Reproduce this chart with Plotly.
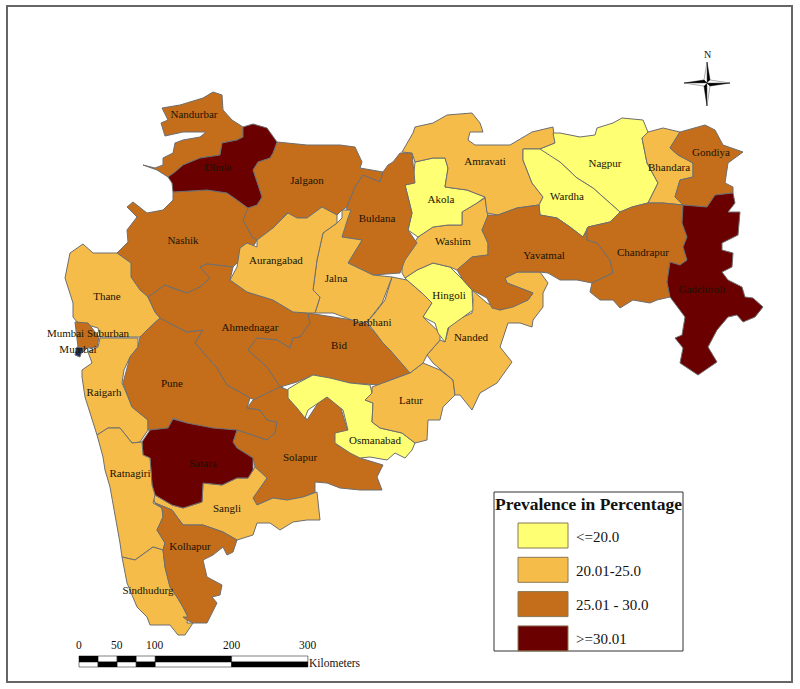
import plotly.graph_objects as go

NANDURBAR = [(213,92),(222,95),(223,110),(232,120),(243,127),(243,137),(237,140),(222,143),(220,155),(200,158),(183,165),(175,172),(168,177),(157,170),(143,165),(155,168),(163,165),(163,158),(173,153),(175,143),(183,140),(200,137),(206,132),(183,132),(165,136),(161,123),(168,120),(162,108),(180,105),(203,98)]
DHULE = [(243,127),(253,124),(267,128),(272,135),(277,142),(273,153),(270,158),(258,162),(253,170),(257,182),(262,197),(257,205),(248,208),(237,200),(227,193),(207,190),(173,192),(172,183),(168,177),(175,172),(183,165),(200,158),(220,155),(222,143),(237,140),(243,137)]
JALGAON = [(277,142),(307,145),(340,145),(355,147),(362,162),(360,168),(383,172),(380,182),(363,175),(355,187),(347,207),(342,210),(337,215),(322,207),(307,218),(297,218),(287,213),(273,228),(257,240),(252,237),(243,220),(247,208),(257,205),(262,197),(257,182),(253,170),(258,162),(270,158),(273,153)]
NASHIK = [(173,192),(207,190),(227,193),(237,200),(248,208),(243,220),(252,237),(257,240),(253,247),(247,243),(240,248),(240,260),(233,267),(207,264),(200,267),(210,278),(200,287),(187,293),(172,288),(165,285),(148,297),(140,290),(131,277),(131,263),(117,253),(128,242),(127,230),(137,217),(127,207),(133,202),(147,213),(163,210),(173,200)]
THANE = [(83,244),(93,253),(112,253),(117,253),(131,263),(131,277),(140,290),(148,297),(155,312),(160,318),(147,330),(140,337),(100,337),(98,328),(77,322),(73,317),(73,303),(65,278),(70,253)]
MUMBAI_SUB = [(75,322),(88,323),(99,337),(97,347),(87,348),(82,353),(78,347)]
MUMBAI = [(77,347),(83,348),(80,357),(75,355)]
RAIGARH = [(100,338),(138,338),(138,347),(130,357),(124,370),(122,383),(128,397),(132,407),(148,420),(148,430),(140,442),(132,443),(120,428),(108,428),(97,435),(90,412),(85,397),(82,377),(82,370),(92,363),(88,352),(98,347)]
PUNE = [(123,383),(128,397),(132,407),(148,420),(148,430),(168,428),(173,418),(197,427),(213,430),(237,430),(267,440),(275,433),(277,422),(267,420),(260,410),(247,408),(250,398),(240,392),(227,385),(217,368),(195,343),(203,330),(187,332),(173,325),(160,318),(147,330),(140,337),(138,347),(130,357)]
AHMEDNAGAR = [(148,297),(165,285),(172,288),(187,293),(200,287),(210,278),(200,267),(207,264),(233,267),(230,280),(247,292),(273,300),(293,312),(308,313),(310,323),(300,337),(293,338),(290,348),(277,340),(257,338),(248,350),(267,367),(280,383),(283,388),(255,400),(250,398),(240,392),(227,385),(217,368),(195,343),(203,330),(187,332),(173,325),(160,318),(155,312)]
BID = [(308,313),(340,318),(365,322),(377,335),(383,343),(390,350),(400,362),(410,373),(390,380),(380,385),(350,383),(313,375),(297,382),(280,387),(267,367),(248,350),(257,338),(277,340),(290,348),(293,338),(300,337),(310,323)]
SOLAPUR = [(280,387),(288,390),(297,403),(307,420),(320,400),(327,397),(340,405),(345,423),(348,432),(335,437),(337,445),(360,458),(383,465),(377,477),(382,490),(360,490),(340,488),(327,483),(315,482),(315,492),(303,497),(287,500),(273,498),(257,505),(253,498),(267,478),(255,467),(253,458),(237,448),(233,442),(237,430),(267,440),(275,433),(277,422),(267,420),(260,410),(247,408),(253,400)]
OSMANABAD = [(288,389),(298,383),(313,375),(330,378),(350,383),(370,385),(372,393),(365,400),(373,403),(372,422),(380,428),(402,433),(415,443),(412,450),(405,458),(395,453),(387,460),(370,457),(360,458),(350,453),(335,443),(335,433),(348,430),(343,410),(327,397),(318,403),(308,410),(305,418),(297,408),(288,398)]
LATUR = [(372,387),(390,380),(410,373),(423,363),(440,370),(453,380),(455,395),(443,407),(440,420),(428,420),(427,440),(415,443),(402,433),(380,428),(372,422),(373,403),(365,400),(372,393)]
NANDED = [(472,290),(487,303),(500,310),(528,300),(533,293),(517,287),(507,283),(505,278),(517,272),(540,272),(548,283),(543,293),(543,307),(533,320),(532,327),(520,323),(508,323),(500,347),(512,362),(497,383),(480,393),(472,410),(460,395),(455,395),(453,380),(433,363),(427,355),(440,340),(445,342),(450,323),(472,313),(473,300)]
PARBHANI = [(392,277),(407,280),(422,293),(432,303),(423,317),(440,333),(440,340),(427,355),(423,363),(410,373),(390,350),(383,343),(377,335),(367,322),(375,313),(385,300)]
HINGOLI = [(405,278),(417,270),(433,263),(450,267),(463,280),(472,290),(473,310),(463,317),(448,328),(445,342),(438,333),(435,323),(423,317),(432,303),(422,293),(407,280)]
WASHIM = [(402,262),(410,250),(418,237),(433,227),(448,225),(462,225),(462,212),(477,203),(485,198),(488,217),(482,230),(488,243),(488,255),(472,257),(457,270),(450,267),(433,263),(417,270),(405,278),(402,273)]
AKOLA = [(415,162),(433,158),(445,158),(448,168),(445,187),(467,190),(485,197),(477,203),(462,212),(462,225),(448,225),(433,227),(418,237),(408,230),(412,213),(405,185),(413,183)]
BULDANA = [(363,175),(380,182),(383,172),(388,165),(393,162),(400,153),(412,153),(415,183),(405,185),(412,213),(408,230),(417,243),(405,260),(400,273),(373,275),(348,263),(362,240),(342,237),(347,207),(355,187)]
JALNA = [(342,210),(351,210),(348,218),(342,237),(362,240),(348,263),(373,275),(392,277),(387,290),(382,303),(367,322),(360,323),(333,313),(315,313),(320,297),(313,290),(317,260),(323,233),(337,223),(342,218)]
AURANGABAD = [(288,213),(297,218),(307,218),(322,207),(337,215),(337,223),(323,233),(317,260),(313,290),(320,297),(315,313),(308,313),(293,312),(273,300),(247,292),(230,280),(237,267),(240,248),(247,243),(257,247),(257,240),(273,228)]
AMRAVATI = [(402,152),(413,133),(415,127),(433,123),(447,115),(472,113),(480,123),(483,132),(470,132),(468,140),(475,145),(497,145),(510,145),(532,132),(553,127),(555,143),(540,149),(523,149),(523,160),(532,183),(543,197),(539,205),(517,208),(498,215),(487,213),(485,197),(467,190),(445,187),(448,168),(445,158),(433,158),(415,162),(412,153)]
NAGPUR = [(540,149),(555,143),(553,133),(560,133),(580,137),(595,135),(597,128),(613,123),(622,118),(643,120),(648,132),(642,138),(647,163),(658,183),(648,203),(632,207),(620,212),(607,200),(593,188),(577,178),(560,162),(543,153)]
WARDHA = [(523,149),(540,149),(560,162),(577,178),(593,188),(607,200),(620,212),(610,222),(588,227),(583,237),(570,227),(557,218),(540,215),(539,205),(543,197),(532,183),(523,160)]
BHANDARA = [(648,132),(663,128),(680,132),(670,148),(678,155),(693,163),(693,177),(680,180),(675,197),(683,205),(663,203),(648,203),(658,183),(647,163),(642,138)]
GONDIYA = [(680,132),(705,125),(715,130),(723,145),(743,152),(728,163),(725,183),(733,187),(733,193),(715,195),(707,207),(683,205),(675,197),(680,180),(693,177),(693,163),(678,155),(670,148)]
GADCHIROLI = [(715,195),(733,193),(735,203),(728,212),(740,212),(738,235),(722,243),(722,250),(733,253),(732,267),(722,272),(728,280),(742,287),(745,297),(753,298),(763,307),(755,317),(743,322),(737,315),(728,317),(717,330),(708,347),(717,362),(698,375),(680,363),(683,348),(675,338),(682,335),(685,317),(670,297),(667,282),(670,262),(680,265),(687,260),(683,247),(687,237),(682,223),(683,205),(707,207)]
CHANDRAPUR = [(587,228),(588,227),(610,222),(620,212),(632,207),(648,203),(663,203),(683,205),(682,223),(687,237),(683,247),(687,260),(680,265),(670,262),(667,282),(670,297),(657,300),(650,303),(633,300),(620,308),(613,300),(600,300),(590,292),(592,283),(613,273),(610,260),(597,243),(587,240)]
YAVATMAL = [(488,215),(498,215),(517,208),(539,205),(540,215),(557,218),(570,227),(583,237),(588,228),(587,240),(597,243),(610,260),(613,273),(592,283),(577,280),(560,280),(548,273),(540,272),(517,272),(505,278),(507,283),(517,287),(533,293),(528,300),(513,307),(500,310),(492,308),(487,298),(472,290),(463,280),(457,270),(472,257),(488,255),(488,243),(482,230)]
SATARA = [(173,419),(187,423),(213,428),(237,430),(233,442),(237,448),(253,458),(253,470),(248,478),(237,478),(222,485),(203,483),(202,502),(183,508),(172,505),(155,495),(152,485),(150,458),(143,455),(142,442),(150,430),(168,428)]
SANGLI = [(155,495),(172,505),(183,508),(202,502),(203,483),(222,485),(237,478),(248,478),(255,467),(267,478),(253,498),(257,505),(273,498),(287,500),(303,497),(317,492),(320,520),(307,520),(293,522),(280,530),(270,523),(257,523),(253,535),(237,540),(223,532),(203,525),(183,525),(172,510),(155,503),(153,497)]
RATNAGIRI = [(97,435),(108,428),(120,428),(132,443),(142,442),(143,455),(150,458),(152,485),(155,495),(153,503),(162,508),(163,517),(157,530),(165,543),(163,550),(153,547),(135,560),(122,557),(120,543),(115,513),(110,487),(105,470),(103,457)]
SINDHUDURG = [(122,557),(135,560),(153,547),(163,550),(165,567),(170,587),(177,597),(183,607),(188,617),(187,623),(193,623),(185,635),(178,635),(170,625),(150,625),(147,617),(137,607),(127,583)]
KOLHAPUR = [(155,503),(172,510),(183,525),(203,525),(223,532),(237,540),(233,552),(227,555),(223,547),(213,555),(203,560),(207,577),(222,585),(220,595),(212,597),(217,603),(207,623),(193,623),(187,620),(183,617),(188,617),(183,607),(177,597),(170,587),(165,567),(163,550),(165,543),(157,530),(163,517),(162,508)]

# name, outline, prevalence class, label position
DISTRICTS = [
    ("Nandurbar", NANDURBAR, 2, (194,115)), ("Jalgaon", JALGAON, 2, (307,181)), ("Nashik", NASHIK, 2, (183,241)),
    ("Dhule", DHULE, 3, (218,168)), ("Thane", THANE, 1, (107,297)), ("Raigarh", RAIGARH, 1, (104,393)),
    ("Mumbai Suburban", MUMBAI_SUB, 2, (88,334)), ("Mumbai", MUMBAI, 1, (78,350)),
    ("Pune", PUNE, 2, (172,384)), ("Ahmednagar", AHMEDNAGAR, 2, (250,328)), ("Bid", BID, 2, (339,346)),
    ("Solapur", SOLAPUR, 2, (300,458)), ("Osmanabad", OSMANABAD, 0, (375,441)), ("Latur", LATUR, 1, (411,401)),
    ("Nanded", NANDED, 1, (471,338)), ("Parbhani", PARBHANI, 1, (372,323)), ("Hingoli", HINGOLI, 0, (449,296)),
    ("Washim", WASHIM, 1, (453,242)), ("Akola", AKOLA, 0, (441,200)), ("Buldana", BULDANA, 2, (377,219)),
    ("Jalna", JALNA, 1, (336,279)), ("Aurangabad", AURANGABAD, 1, (276,261)), ("Amravati", AMRAVATI, 1, (485,162)),
    ("Nagpur", NAGPUR, 0, (605,164)), ("Wardha", WARDHA, 0, (567,197)), ("Bhandara", BHANDARA, 1, (669,168)),
    ("Gondiya", GONDIYA, 2, (711,153)), ("Yavatmal", YAVATMAL, 2, (544,256)), ("Chandrapur", CHANDRAPUR, 2, (643,253)),
    ("Gadchiroli", GADCHIROLI, 3, (702,290)), ("Sangli", SANGLI, 1, (227,509)), ("Satara", SATARA, 3, (203,464)),
    ("Ratnagiri", RATNAGIRI, 1, (130,474)), ("Sindhudurg", SINDHUDURG, 1, (148,591)), ("Kolhapur", KOLHAPUR, 2, (190,547)),
]

CLASS_LABELS = ["<=20.0", "20.01-25.0", "25.01 - 30.0", ">=30.01"]
CLASS_COLORS = ["#FFFF73", "#F5BC4A", "#C46E1C", "#6B0000"]
LEGEND_TITLE = "Prevalence in Percentage"
SCALE_TICKS = [0, 50, 100, 200, 300]
SCALE_STOPS = [0, 25, 50, 75, 100, 200, 300]
SCALE_UNIT = "Kilometers"
PX_PER_KM = 0.763
SERIF = "Liberation Serif"
LINE = "#6E6E6E"

fig = go.Figure()

def poly(pts, fill, line=LINE, width=1, name=None):
    xs = [p[0] for p in pts] + [pts[0][0]]
    ys = [p[1] for p in pts] + [pts[0][1]]
    fig.add_trace(go.Scatter(x=xs, y=ys, mode="lines", fill="toself", fillcolor=fill,
                             line=dict(color=line, width=width), name=name or "", showlegend=False,
                             hoverinfo="name" if name else "skip"))

for name, pts, cls, _ in DISTRICTS:
    poly(pts, "#1F2A55" if name == "Mumbai" else CLASS_COLORS[cls], name=name)

fig.add_trace(go.Scatter(x=[d[3][0] for d in DISTRICTS], y=[d[3][1] for d in DISTRICTS],
                         text=[d[0] for d in DISTRICTS], mode="text", showlegend=False, hoverinfo="skip",
                         textfont=dict(family=SERIF, size=11, color="#1a1200")))

shapes, annos = [], []
def rect(x0, y0, x1, y1, fill="rgba(0,0,0,0)", line="#000000", w=1):
    shapes.append(dict(type="rect", x0=x0, y0=y0, x1=x1, y1=y1, fillcolor=fill,
                       line=dict(color=line, width=w)))
def text(x, y, s, size, anchor="center", bold=False, color="#111111"):
    annos.append(dict(x=x, y=y, text=f"<b>{s}</b>" if bold else s, showarrow=False, xanchor=anchor, yanchor="middle",
                      font=dict(family=SERIF, size=size, color=color)))

# Page frame
rect(7, 6, 792, 682, line="#666666", w=2)

# Legend box
rect(494, 492, 683, 651, fill="#FFFFFF", line="#333333", w=1)
text(588.5, 504, LEGEND_TITLE, 17.5, bold=True)
for i, (lab, col) in enumerate(zip(CLASS_LABELS, CLASS_COLORS)):
    y0 = 523 + i * 34.3
    rect(518, y0, 568, min(y0 + 25, 651), fill=col, line="#8a7a55", w=1)
    text(574, y0 + 13.5, lab, 15, anchor="left")

# Scale bar
SX, TOP, MID, BOT = 79, 656, 662, 667
for i in range(len(SCALE_STOPS) - 1):
    a = SX + SCALE_STOPS[i] * PX_PER_KM
    b = SX + SCALE_STOPS[i + 1] * PX_PER_KM
    up, lo = ("#000000", "#FFFFFF") if i % 2 == 0 else ("#FFFFFF", "#000000")
    rect(a, TOP, b, MID, fill=up, line="#000000", w=0.5)
    rect(a, MID, b, BOT, fill=lo, line="#000000", w=0.5)
for km in SCALE_TICKS:
    text(SX + km * PX_PER_KM, 645, str(km), 11.5)
text(307, 663, SCALE_UNIT, 11.5, anchor="left")

# North arrow
CX, CY = 707, 83
poly([(CX, 62), (CX + 3, CY - 3), (CX, CY)], "#000000", line="#000000", width=0.5)
poly([(CX, 62), (CX - 3, CY - 3), (CX, CY)], "#FFFFFF", line="#555555", width=0.5)
poly([(CX, 106), (CX - 3, CY + 3), (CX, CY)], "#000000", line="#000000", width=0.5)
poly([(CX, 106), (CX + 3, CY + 3), (CX, CY)], "#FFFFFF", line="#555555", width=0.5)
poly([(684, CY), (CX - 3, CY - 3), (CX, CY)], "#000000", line="#000000", width=0.5)
poly([(684, CY), (CX - 3, CY + 3), (CX, CY)], "#FFFFFF", line="#555555", width=0.5)
poly([(730, CY), (CX + 3, CY + 3), (CX, CY)], "#000000", line="#000000", width=0.5)
poly([(730, CY), (CX + 3, CY - 3), (CX, CY)], "#FFFFFF", line="#555555", width=0.5)
text(CX, 54, "N", 10)

fig.update_layout(
    width=800, height=689, margin=dict(l=0, r=0, t=0, b=0), paper_bgcolor="#FFFFFF", plot_bgcolor="#FFFFFF",
    xaxis=dict(range=[0, 800], visible=False, fixedrange=True),
    yaxis=dict(range=[689, 0], visible=False, fixedrange=True),
    shapes=shapes, annotations=annos, showlegend=False,
)
fig.write_html("out.html", config=dict(displayModeBar=False),
               post_script="document.body.style.margin='0';document.body.style.overflow='hidden';")
